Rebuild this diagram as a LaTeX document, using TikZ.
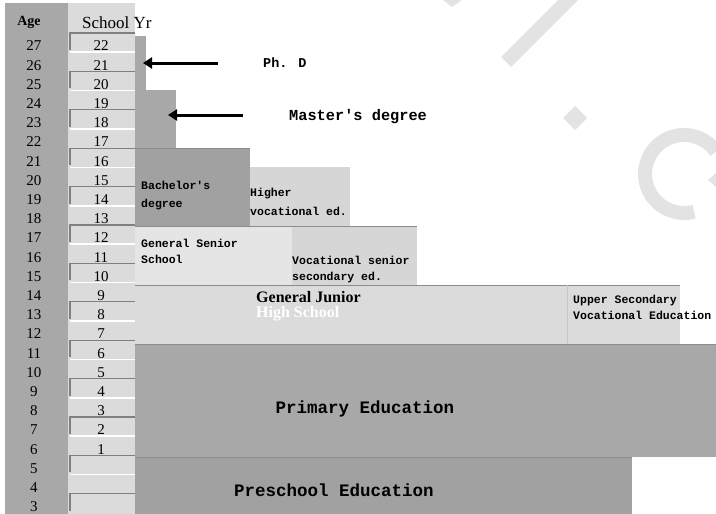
\documentclass[tikz,border=0pt]{standalone}
\usepackage{fontspec}
\setmainfont{Liberation Serif}
\newfontfamily\labelfont{Liberation Mono}
\usetikzlibrary{positioning, arrows.meta, calc}

\begin{document}
\begin{tikzpicture}[
    x=1pt, y=-1pt,
    % Colour palette
    ageGrey/.style={fill=black!34},
    cellGrey/.style={fill=black!14},
    darkBar/.style={fill=black!34},
    deepBar/.style={fill=black!37},
    midBar/.style={fill=black!16},
    paleBar/.style={fill=black!10},
    markGrey/.style={fill=black!11},
    % Node styles
    bar/.style={rectangle, inner sep=0pt, outer sep=0pt, anchor=north west},
    num/.style={font=\fontsize{15}{15}\selectfont, inner sep=0pt},
    head/.style={font=\fontsize{17}{17}\selectfont, inner sep=0pt},
    tag/.style={font=\labelfont\bfseries\fontsize{11.5}{16}\selectfont, align=left, inner sep=0pt, anchor=west},
    big/.style={font=\labelfont\bfseries\fontsize{17.5}{18}\selectfont, inner sep=0pt},
    topline/.style={draw=black!45, line width=1pt},
    rowDark/.style={draw=black!50, line width=1.2pt},
    rowLight/.style={draw=white, line width=1.5pt},
    pointer/.style={-{Triangle[length=9pt, width=11pt]}, line width=3pt}
]
\useasboundingbox (0,0) rectangle (716,514);
\clip (0,0) rectangle (716,514);

% =========================================================
% FAINT MARKS
% =========================================================
\fill[markGrey] (443,0) -- (462,0) -- (452,7) -- cycle;
\fill[markGrey] (558,0) -- (578,0) -- (511,67) -- (501,57) -- cycle;
\fill[markGrey] (575,106) -- (587,118) -- (575,130) -- (563,118) -- cycle;
\draw[draw=black!11, line width=14pt] (716,151.6) arc[start angle=-35, end angle=-285, radius=39];
\fill[markGrey] (708,180) -- (716,173) -- (716,187) -- cycle;

% =========================================================
% AGE AND SCHOOL YEAR COLUMNS
% =========================================================
\fill[ageGrey] (5,3) rectangle (68,514);
\fill[cellGrey] (68,3) rectangle (135,514);

\node[head, font=\bfseries\fontsize{14}{14}\selectfont] (ageHead) at (29,22) {Age};
\node[head, anchor=west] (yrHead) at (82,23) {School Yr};

\foreach \k in {0,...,24} {
    \pgfmathsetmacro{\ytop}{33+19.2*\k}
    \pgfmathtruncatemacro{\age}{27-\k}
    \pgfmathtruncatemacro{\yr}{22-\k}
    \ifodd\k\relax
        \draw[rowLight] (70,\ytop) -- (135,\ytop);
    \else
        \draw[rowDark] (135,\ytop) -- (70,\ytop) -- (70,\ytop+17);
    \fi
    \node[num] (age\k) at (34,\ytop+13) {\age};
    \ifnum\yr>0
        \node[num] (yr\k) at (101,\ytop+13) {\yr};
    \fi
}

% =========================================================
% HIGHER EDUCATION
% =========================================================
\node[bar, darkBar, minimum width=11, minimum height=54] (phdBar) at (135,36) {};
\node[bar, darkBar, minimum width=41, minimum height=58] (mastBar) at (135,90) {};
\node[bar, deepBar, minimum width=115, minimum height=78] (bachBar) at (135,148) {};
\node[bar, midBar, minimum width=100, minimum height=59] (hvocBar) at (250,167) {};

\node[tag, font=\labelfont\bfseries\fontsize{13.5}{14}\selectfont] (phdText) at (263,63) {Ph. D};
\node[tag, font=\labelfont\bfseries\fontsize{15.3}{16}\selectfont] (mastText) at (289,117) {Master's degree};

\coordinate (phdTail) at (218,63);
\coordinate (mastTail) at (243,115);
\draw[pointer] (phdTail) -- ($(phdTail -| phdBar.east)+(-3,0)$);
\draw[pointer] (mastTail) -- ($(mastTail -| mastBar.east)+(-8,0)$);

\node[tag] (bachText) at (141,196) {Bachelor's\\[2pt]degree};
\node[tag] (hvocText) at (250,202) {Higher\\[3pt]vocational ed.};

% =========================================================
% SECONDARY EDUCATION
% =========================================================
\node[bar, paleBar, minimum width=157, minimum height=59] (seniorBar) at (135,226) {};
\node[bar, midBar, minimum width=125, minimum height=59] (vsenBar) at (292,226) {};
\node[bar, cellGrey, minimum width=432, minimum height=59] (juniorBar) at (135,285) {};
\node[bar, cellGrey, minimum width=113, minimum height=59] (uvocBar) at (567,285) {};

\node[tag] (seniorText) at (141,251) {General Senior\\School};
\node[tag] (vsenText) at (292,270) {Vocational senior\\secondary ed.};
\node[font=\bfseries\fontsize{16}{15}\selectfont, align=left, anchor=west, inner sep=0pt] (juniorText) at (256,306) {General Junior\\\textcolor{white}{High School}};
\node[tag] (uvocText) at (573,307) {Upper Secondary\\Vocational Education};

% =========================================================
% PRIMARY AND PRESCHOOL
% =========================================================
\node[bar, darkBar, minimum width=581, minimum height=113] (primBar) at (135,344) {};
\node[bar, deepBar, minimum width=497, minimum height=57] (preBar) at (135,457) {};

\node[big] (primText) at (365,409) {Primary Education};
\node[big] (preText) at (334,490) {Preschool Education};

% top edges
\draw[topline] (bachBar.north west) -- (bachBar.north east);
\draw[topline] (seniorBar.north west) -- (vsenBar.north east);
\draw[topline] (juniorBar.north west) -- (uvocBar.north east);
\draw[topline] (primBar.north west) -- (primBar.north east);
\draw[topline] (preBar.north west) -- (preBar.north east);
\draw[draw=black!22, line width=0.8pt] (uvocBar.north west) -- (uvocBar.south west);

\end{tikzpicture}
\end{document}
